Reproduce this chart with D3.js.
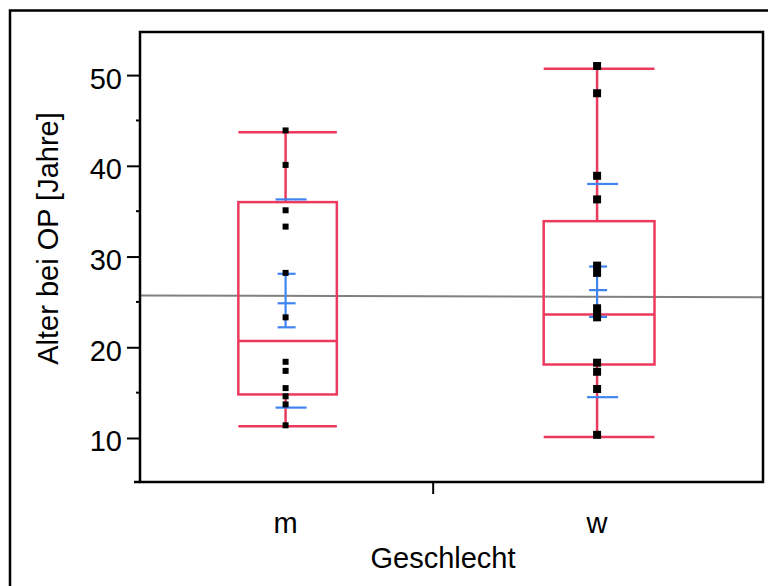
<!DOCTYPE html>
<html>
<head>
<meta charset="utf-8">
<script src="https://cdn.jsdelivr.net/npm/d3@7"></script>
<style>
  body { margin: 0; background: #fff; }
  svg { display: block; }
  text { font-family: "Liberation Sans", Arial, sans-serif; fill: #000; }
</style>
</head>
<body>
<script>
// Groups and sample sizes (column widths are proportional to n)
const categories = ["m", "w"];
const counts = [16, 18];

// Box plot summary per group
const whiskerLow = [11.3, 10.1];
const q1 = [14.8, 18.1];
const median = [20.7, 23.6];
const q3 = [36.0, 33.9];
const whiskerHigh = [43.7, 50.7];

// Mean, error bars (±SE) and ±SD lines
const means = [24.85, 26.3];
const ciLow = [22.2, 23.35];
const ciHigh = [28.1, 28.9];
const sdLow = [13.35, 14.5];
const sdHigh = [36.3, 38.0];

// Raw observations
const pointsM = [43.9, 40.1, 35.1, 33.3, 28.2, 23.3, 18.4, 17.4, 15.5, 14.6, 13.7, 11.4];
const pointsW = [51.0, 48.0, 38.9, 36.3, 29.0, 28.2, 24.3, 23.7, 23.3, 18.3, 17.3, 15.4, 10.35];
const points = [pointsM, pointsW];

// Grand mean line (left end, right end)
const grandMean = [25.72, 25.5];

const yTicks = [10, 20, 30, 40, 50];
const yMinor = [15, 25, 35, 45];

const W = 768, H = 586;
const plot = { left: 140, right: 763, top: 32, bottom: 482 };
const red = "#ec3a5e", blue = "#3f85f2";
const markerSize = [6, 8];

const svg = d3.select("body").append("svg").attr("width", W).attr("height", H);

const y = d3.scaleLinear().domain([5.15, 54.75]).range([plot.bottom, plot.top]);
const x = d3.scaleLinear().domain([0, d3.sum(counts)]).range([plot.left, plot.right]);
const starts = [0, ...d3.cumsum(counts)];

// outer frame (cropped on the right and bottom)
svg.append("rect")
  .attr("x", 10).attr("y", 10.5)
  .attr("width", 800).attr("height", 620)
  .attr("fill", "none").attr("stroke", "#000").attr("stroke-width", 2.5);

// grand mean line
svg.append("line")
  .attr("x1", plot.left).attr("x2", plot.right)
  .attr("y1", y(grandMean[0])).attr("y2", y(grandMean[1]))
  .attr("stroke", "#808080").attr("stroke-width", 2);

const groups = svg.selectAll("g.grp")
  .data(categories.map((c, i) => ({
    c, i,
    x0: x(starts[i]), x1: x(starts[i + 1]),
    cx: x(starts[i] + counts[i] / 2) - 1
  })))
  .join("g").attr("class", "grp");

groups.each(function (d) {
  const g = d3.select(this);
  const i = d.i;
  const half = (d.x1 - d.x0) * 0.168;
  const bx = d.cx + 2;

  // whiskers
  g.append("line").attr("x1", d.cx).attr("x2", d.cx)
    .attr("y1", y(whiskerHigh[i])).attr("y2", y(q3[i]))
    .attr("stroke", red).attr("stroke-width", 2.5);
  g.append("line").attr("x1", d.cx).attr("x2", d.cx)
    .attr("y1", y(q1[i])).attr("y2", y(whiskerLow[i]))
    .attr("stroke", red).attr("stroke-width", 2.5);
  [whiskerHigh[i], whiskerLow[i]].forEach(v => {
    g.append("line").attr("x1", bx - half).attr("x2", bx + half)
      .attr("y1", y(v)).attr("y2", y(v))
      .attr("stroke", red).attr("stroke-width", 2.5);
  });

  // box and median
  g.append("rect")
    .attr("x", bx - half).attr("width", 2 * half)
    .attr("y", y(q3[i])).attr("height", y(q1[i]) - y(q3[i]))
    .attr("fill", "none").attr("stroke", red).attr("stroke-width", 2.5);
  g.append("line").attr("x1", bx - half).attr("x2", bx + half)
    .attr("y1", y(median[i])).attr("y2", y(median[i]))
    .attr("stroke", red).attr("stroke-width", 2.5);

  // mean with error bars
  g.append("line").attr("x1", d.cx).attr("x2", d.cx)
    .attr("y1", y(ciHigh[i])).attr("y2", y(ciLow[i]))
    .attr("stroke", blue).attr("stroke-width", 2.2);
  [ciHigh[i], means[i], ciLow[i]].forEach(v => {
    g.append("line").attr("x1", d.cx - 8).attr("x2", d.cx + 10)
      .attr("y1", y(v)).attr("y2", y(v))
      .attr("stroke", blue).attr("stroke-width", 2.2);
  });
  [sdHigh[i], sdLow[i]].forEach(v => {
    g.append("line").attr("x1", d.cx - 10).attr("x2", d.cx + 21)
      .attr("y1", y(v)).attr("y2", y(v))
      .attr("stroke", blue).attr("stroke-width", 2.2);
  });

  // points
  const s = markerSize[i];
  g.selectAll("rect.pt").data(points[i]).join("rect").attr("class", "pt")
    .attr("x", d.cx - s / 2).attr("y", v => y(v) - s / 2)
    .attr("width", s).attr("height", s).attr("fill", "#000");

  // category label
  g.append("text").attr("x", d.cx).attr("y", 533)
    .attr("text-anchor", "middle").attr("font-size", 29).text(d.c);
});

// plot frame
svg.append("rect")
  .attr("x", plot.left).attr("y", plot.top)
  .attr("width", plot.right - plot.left).attr("height", plot.bottom - plot.top)
  .attr("fill", "none").attr("stroke", "#000").attr("stroke-width", 2.5);
svg.append("line").attr("x1", 134).attr("x2", plot.left)
  .attr("y1", plot.bottom).attr("y2", plot.bottom)
  .attr("stroke", "#000").attr("stroke-width", 2.5);

// y axis
const yAxis = svg.append("g").attr("transform", `translate(${plot.left},0)`)
  .call(d3.axisLeft(y).tickValues(yTicks).tickSize(13).tickPadding(5).tickSizeOuter(0));
yAxis.select(".domain").remove();
yAxis.selectAll(".tick line").attr("stroke", "#000").attr("stroke-width", 2);
yAxis.selectAll(".tick text")
  .attr("font-family", "Liberation Sans, Arial, sans-serif")
  .attr("font-size", 29).attr("dy", 13).attr("fill", "#000");
svg.append("g").selectAll("line").data(yMinor).join("line")
  .attr("x1", plot.left - 4).attr("x2", plot.left)
  .attr("y1", v => y(v)).attr("y2", v => y(v))
  .attr("stroke", "#000").attr("stroke-width", 2);

// x divider tick
svg.append("line")
  .attr("x1", x(starts[1])).attr("x2", x(starts[1]))
  .attr("y1", plot.bottom).attr("y2", plot.bottom + 12)
  .attr("stroke", "#000").attr("stroke-width", 2);

// axis titles
svg.append("text").attr("x", 443).attr("y", 568)
  .attr("text-anchor", "middle").attr("font-size", 29).text("Geschlecht");
svg.append("text").attr("transform", "translate(58,238.5) rotate(-90)")
  .attr("text-anchor", "middle").attr("font-size", 29).text("Alter bei OP [Jahre]");
</script>
</body>
</html>
